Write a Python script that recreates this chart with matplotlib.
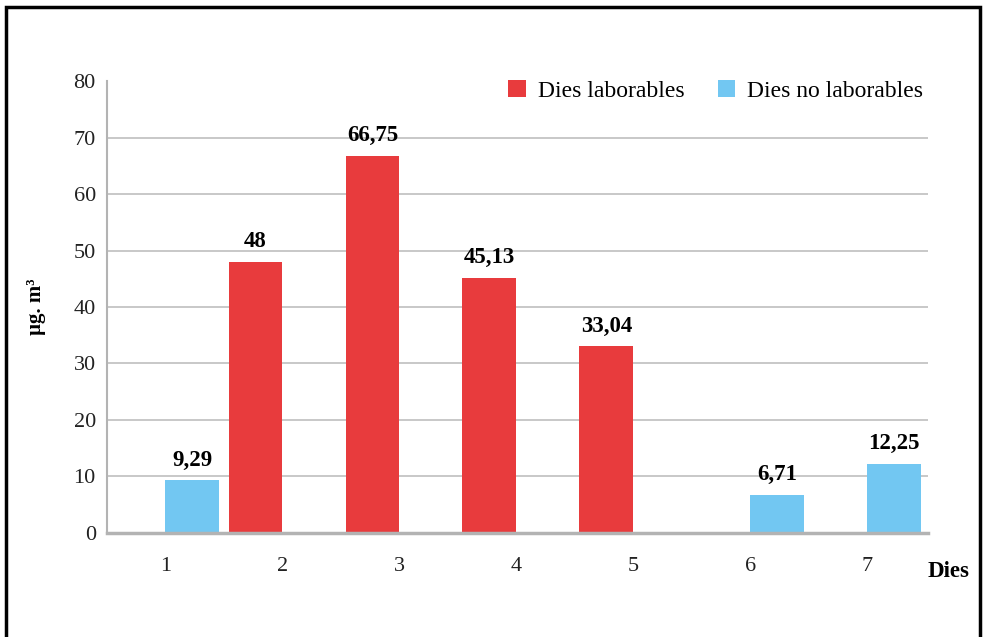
"""Bar chart: daily concentrations, working vs non-working days."""

import matplotlib

matplotlib.use("Agg")
import matplotlib.pyplot as plt
import numpy as np
from matplotlib.patches import Rectangle

DAYS = ["1", "2", "3", "4", "5", "6", "7"]
LABORABLES = [np.nan, 48, 66.75, 45.13, 33.04, np.nan, np.nan]
NO_LABORABLES = [9.29, np.nan, np.nan, np.nan, np.nan, 6.71, 12.25]
Y_TICKS = [0, 10, 20, 30, 40, 50, 60, 70, 80]

COLORS = {
    "red": "#e83b3d",
    "blue": "#72c7f2",
    "grid": "#c4c4c4",
    "axis": "#b3b3b3",
}

plt.rcParams["font.family"] = ["Liberation Serif", "DejaVu Serif"]


def _fmt(v: float) -> str:
    s = f"{v:.2f}".rstrip("0").rstrip(".")
    return s.replace(".", ",")


def main() -> None:
    fig = plt.figure(figsize=(9.83, 6.37), dpi=100)
    ax = fig.add_axes([0.1088, 0.1633, 0.8352, 0.7095])

    x = np.arange(len(DAYS))
    width = 0.46
    bars_red = ax.bar(x - width / 2, LABORABLES, width, color=COLORS["red"], label="Dies laborables", zorder=3)
    bars_blue = ax.bar(x + width / 2, NO_LABORABLES, width, color=COLORS["blue"], label="Dies no laborables", zorder=3)

    for bars, vals in ((bars_red, LABORABLES), (bars_blue, NO_LABORABLES)):
        for b, v in zip(bars, vals):
            if np.isnan(v):
                continue
            ax.annotate(
                _fmt(v),
                (b.get_x() + b.get_width() / 2, v),
                xytext=(0, 7),
                textcoords="offset points",
                ha="center",
                va="bottom",
                fontsize=16.5,
                fontweight="bold",
            )

    ax.set_xlim(-0.5, 6.52)
    ax.set_ylim(0, 80)
    ax.set_yticks(Y_TICKS)
    ax.set_xticks(x)
    ax.set_xticklabels(DAYS)
    ax.tick_params(axis="both", length=0, labelsize=16, colors="#222222")
    ax.tick_params(axis="x", pad=17)
    ax.tick_params(axis="y", pad=8)
    # gridlines between 0 and the top, none at the top value
    for t in Y_TICKS[1:-1]:
        ax.axhline(t, color=COLORS["grid"], linewidth=1.3, zorder=0)
    for side in ("top", "right"):
        ax.spines[side].set_visible(False)
    ax.spines["left"].set_color(COLORS["axis"])
    ax.spines["left"].set_linewidth(1.5)
    ax.spines["bottom"].set_color(COLORS["axis"])
    ax.spines["bottom"].set_linewidth(2.5)
    ax.spines["bottom"].set_zorder(4)

    ax.set_ylabel("µg. m³", fontsize=15, fontweight="bold", labelpad=20)
    ax.text(1.0, -0.085, "Dies", transform=ax.transAxes, fontsize=16.5, fontweight="bold",
            ha="left", va="center")

    ax.legend(
        loc="upper right",
        bbox_to_anchor=(1.02, 1.05),
        ncols=2,
        frameon=False,
        fontsize=17,
        handlelength=0.75,
        handleheight=0.75,
        handletextpad=0.5,
        columnspacing=1.4,
    )

    fig.patches.append(
        Rectangle((0.0061, -0.1), 0.991, 1.089, transform=fig.transFigure,
                  fill=False, edgecolor="black", linewidth=2.5, clip_on=False)
    )

    fig.savefig("out.png", dpi=100, facecolor="white")
    plt.close(fig)


if __name__ == "__main__":
    main()
